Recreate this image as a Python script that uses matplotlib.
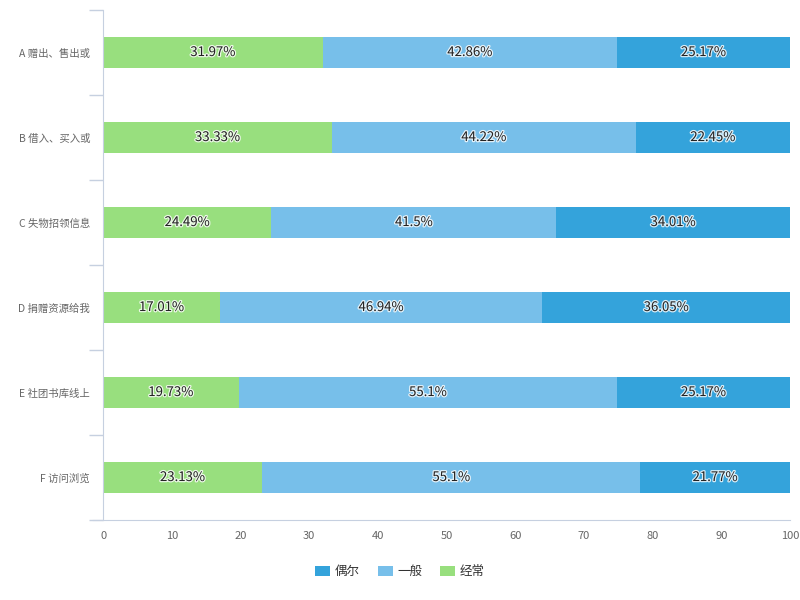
import matplotlib
matplotlib.use('Agg')
import numpy as np
import matplotlib.pyplot as plt
import matplotlib.patheffects as pe

plt.rcParams['font.family'] = ['Noto Sans CJK SC', 'DejaVu Sans']

cats = ['A 赠出、售出或', 'B 借入、买入或', 'C 失物招领信息', 'D 捐赠资源给我', 'E 社团书库线上', 'F 访问浏览']
often = [31.97, 33.33, 24.49, 17.01, 19.73, 23.13]
normal = [42.86, 44.22, 41.5, 46.94, 55.1, 55.1]
rare = [25.17, 22.45, 34.01, 36.05, 25.17, 21.77]

c_often = '#98df7e'
c_normal = '#77bfea'
c_rare = '#34a3db'

fig = plt.figure(figsize=(8, 6), dpi=100)
ax = fig.add_axes([0.129, 0.1333, 0.8585, 0.85])

y = np.arange(len(cats))
h = 0.37
left = np.zeros(len(cats))
bars = []
for vals, col, name in [(often, c_often, '经常'), (normal, c_normal, '一般'), (rare, c_rare, '偶尔')]:
    b = ax.barh(y, vals, left=left, height=h, color=col, label=name)
    for yi, l, v in zip(y, left, vals):
        ax.text(l + v / 2, yi, f'{v:g}%', ha='center', va='center', fontsize=9.5, color='#222222',
                path_effects=[pe.withStroke(linewidth=1.8, foreground='white', alpha=0.8)])
    left = left + np.array(vals)
    bars.append(b)

ax.set_xlim(0, 100)
ax.set_ylim(len(cats) - 0.5, -0.5)
ax.set_xticks(np.arange(0, 101, 10))
ax.set_yticks(y)
ax.set_yticklabels(cats)
ax.set_yticks(np.arange(-0.5, len(cats), 1), minor=True)
ax.tick_params(axis='y', which='major', length=0, pad=9.5, labelsize=7.5, labelcolor='#666666')
ax.tick_params(axis='y', which='minor', length=10, color='#c6d0e0', width=1)
ax.tick_params(axis='x', length=0, pad=8, labelsize=8, labelcolor='#666666')
for s in ['top', 'right']:
    ax.spines[s].set_visible(False)
ax.spines['left'].set_color('#c6d0e0')
ax.spines['bottom'].set_color('#c6d0e0')
ax.spines['bottom'].set_bounds(-1.5, 100)

handles = [bars[2], bars[1], bars[0]]
fig.legend(handles, ['偶尔', '一般', '经常'], loc='center', bbox_to_anchor=(0.5, 0.047), ncol=3,
           frameon=False, fontsize=9, handlelength=1.2, handleheight=0.9, handletextpad=0.4,
           columnspacing=1.4, labelcolor='#333333')

fig.savefig('out.png', dpi=100)
